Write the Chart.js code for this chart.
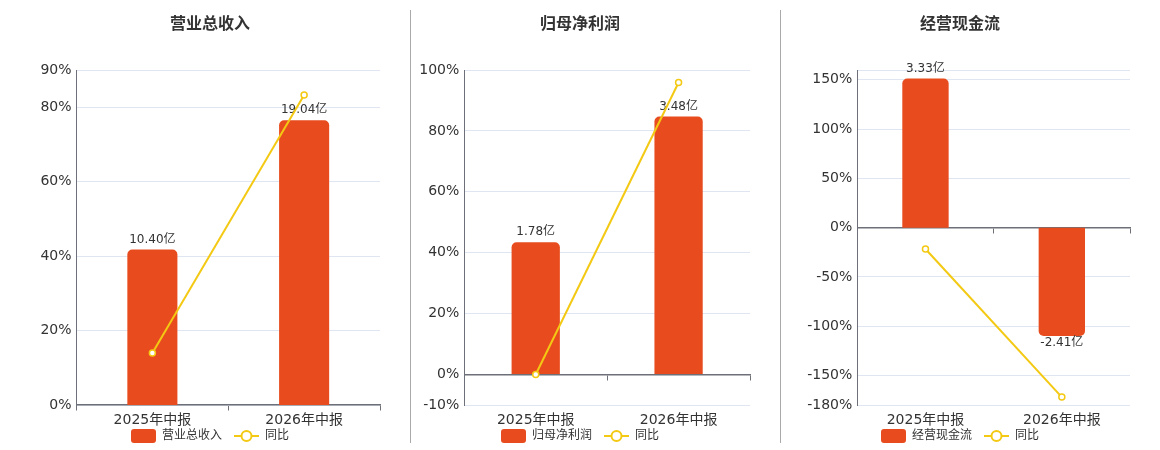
<!DOCTYPE html>
<html>
<head>
<meta charset="utf-8">
<script src="https://cdn.jsdelivr.net/npm/chart.js@4.4.1/dist/chart.umd.min.js"></script>
<style>
    html, body { margin: 0; padding: 0; background: #fff; overflow: hidden; }
    body { width: 1160px; height: 450px; position: relative; }
    .panel { position: absolute; top: 0; height: 450px; }
    .sep { position: absolute; top: 10px; width: 1px; height: 433px; background: #aaa; }
</style>
</head>
<body>
<div class="panel" style="left:0;width:420px"><canvas id="revenueChart"></canvas></div>
<div class="panel" style="left:400px;width:360px"><canvas id="profitChart"></canvas></div>
<div class="panel" style="left:780px;width:360px"><canvas id="cashChart"></canvas></div>
<div class="sep" style="left:410px"></div>
<div class="sep" style="left:780px"></div>
<script>
const periods = ['2025年中报', '2026年中报'];

const revenueValues = [10.40, 19.04];
const revenueYoy = [14.0, 83.3];
const revenueTicks = [0, 20, 40, 60, 80, 90];

const profitValues = [1.78, 3.48];
const profitYoy = [0.0, 95.9];
const profitTicks = [-10, 0, 20, 40, 60, 80, 100];

const cashValues = [3.33, -2.41];
const cashYoy = [-21.7, -172.0];
const cashTicks = [-180, -150, -100, -50, 0, 50, 100, 150, 160];

const BAR_COLOR = '#e84c1e';
const LINE_COLOR = '#f3c913';
const TEXT_COLOR = '#333333';

Chart.defaults.font.family = '"DejaVu Sans", "Noto Sans CJK SC", sans-serif';
Chart.defaults.color = TEXT_COLOR;

// legend icons, echarts style
function barIcon() {
    const c = document.createElement('canvas');
    c.width = 25; c.height = 14;
    const g = c.getContext('2d');
    g.fillStyle = BAR_COLOR;
    g.beginPath();
    g.roundRect(0, 0, 25, 14, 3);
    g.fill();
    return c;
}

function lineIcon() {
    const c = document.createElement('canvas');
    c.width = 25; c.height = 14;
    const g = c.getContext('2d');
    g.strokeStyle = LINE_COLOR;
    g.lineWidth = 2;
    g.beginPath();
    g.moveTo(0, 7); g.lineTo(25, 7);
    g.stroke();
    g.fillStyle = '#fff';
    g.beginPath();
    g.arc(12.5, 7, 5, 0, Math.PI * 2);
    g.fill();
    g.stroke();
    return c;
}

// value labels above / below each bar
const barLabels = {
    id: 'barLabels',
    afterDatasetDraw(chart, args) {
        if (args.index !== 0) return;
        const ctx = chart.ctx;
        const values = chart.data.datasets[0].data;
        ctx.save();
        ctx.font = '12px "DejaVu Sans", "Noto Sans CJK SC", sans-serif';
        ctx.fillStyle = TEXT_COLOR;
        ctx.textAlign = 'center';
        args.meta.data.forEach((bar, i) => {
            const v = values[i];
            const text = v.toFixed(2) + '亿';
            if (v >= 0) {
                ctx.textBaseline = 'bottom';
                ctx.fillText(text, bar.x, bar.y - 4);
            } else {
                ctx.textBaseline = 'top';
                ctx.fillText(text, bar.x, bar.y + 1);
            }
        });
        ctx.restore();
    }
};

function makePanel(id, title, values, yoy, ticks, barMin, barMax, barPct, yWidth, rightWidth, hideTop) {
    const ctx = document.getElementById(id).getContext('2d');
    new Chart(ctx, {
        data: {
            labels: periods,
            datasets: [{
                type: 'bar',
                label: title,
                data: values,
                backgroundColor: BAR_COLOR,
                borderRadius: 5,
                borderSkipped: 'start',
                categoryPercentage: 1,
                barPercentage: barPct,
                xAxisID: 'x',
                yAxisID: 'yb',
                order: 2
            }, {
                type: 'line',
                label: '同比',
                data: yoy,
                borderColor: LINE_COLOR,
                borderWidth: 2,
                pointRadius: 3,
                pointBorderWidth: 1.5,
                pointBackgroundColor: '#fff',
                pointBorderColor: LINE_COLOR,
                xAxisID: 'x',
                yAxisID: 'y',
                order: 1
            }]
        },
        options: {
            responsive: true,
            maintainAspectRatio: false,
            animation: false,
            layout: { padding: { left: 0, right: 0, top: 0, bottom: -2 } },
            plugins: {
                title: {
                    display: true,
                    text: title,
                    color: TEXT_COLOR,
                    font: { size: 16, weight: 'bold' },
                    padding: { top: 15.4, bottom: 35.4 }
                },
                legend: {
                    position: 'bottom',
                    labels: {
                        usePointStyle: true,
                        pointStyleWidth: 25,
                        padding: 12,
                        color: TEXT_COLOR,
                        font: { size: 12 },
                        generateLabels: function () {
                            return [
                                { text: title, pointStyle: barIcon(), fillStyle: BAR_COLOR, strokeStyle: BAR_COLOR, lineWidth: 0, datasetIndex: 0, fontColor: TEXT_COLOR },
                                { text: '同比', pointStyle: lineIcon(), fillStyle: LINE_COLOR, strokeStyle: LINE_COLOR, lineWidth: 0, datasetIndex: 1, fontColor: TEXT_COLOR }
                            ];
                        }
                    }
                },
                tooltip: { enabled: false }
            },
            scales: {
                // holds the space under the plot, labels are drawn by xl
                x: {
                    type: 'category',
                    position: 'bottom',
                    offset: true,
                    grid: { display: false, drawTicks: false },
                    border: { display: false },
                    ticks: { display: false },
                    afterFit: function (scale) { scale.height = 13; }
                },
                xl: {
                    type: 'category',
                    position: { y: ticks[0] },
                    offset: true,
                    grid: { display: false, drawTicks: false },
                    border: { display: false },
                    ticks: { padding: 6.6, color: TEXT_COLOR, font: { size: 14 } }
                },
                xz: {
                    type: 'category',
                    position: { y: 0 },
                    offset: true,
                    grid: { offset: true, drawOnChartArea: false, drawTicks: true, tickLength: 5, color: '#6e7079' },
                    border: { display: true, color: '#6e7079', width: 1.5 },
                    ticks: { display: false }
                },
                y: {
                    position: 'left',
                    min: ticks[0],
                    max: ticks[ticks.length - 1],
                    grid: { color: '#e0e6f1', drawTicks: false },
                    border: { display: true, color: '#6e7079', width: 1 },
                    ticks: {
                        padding: 5,
                        color: TEXT_COLOR,
                        font: { size: 14 },
                        callback: function (v) {
                            if (hideTop && v === ticks[ticks.length - 1]) return '';
                            return v + '%';
                        }
                    },
                    afterBuildTicks: function (scale) {
                        scale.ticks = ticks.map(v => ({ value: v }));
                    },
                    afterFit: function (scale) { scale.width = yWidth; }
                },
                // amounts axis, kept invisible on the right
                yb: {
                    position: 'right',
                    min: barMin,
                    max: barMax,
                    grid: { display: false, drawTicks: false },
                    border: { display: false },
                    ticks: { display: false },
                    afterFit: function (scale) { scale.width = rightWidth; }
                }
            }
        },
        plugins: [barLabels]
    });
}

makePanel('revenueChart', '营业总收入', revenueValues, revenueYoy, revenueTicks, 0, 22.4, 0.33, 76.5, 40, false);
makePanel('profitChart', '归母净利润', profitValues, profitYoy, profitTicks, -0.42, 4.11, 0.338, 64.3, 10, false);
makePanel('cashChart', '经营现金流', cashValues, cashYoy, cashTicks, -3.95, 3.52, 0.34, 77.3, 10, true);
</script>
</body>
</html>
